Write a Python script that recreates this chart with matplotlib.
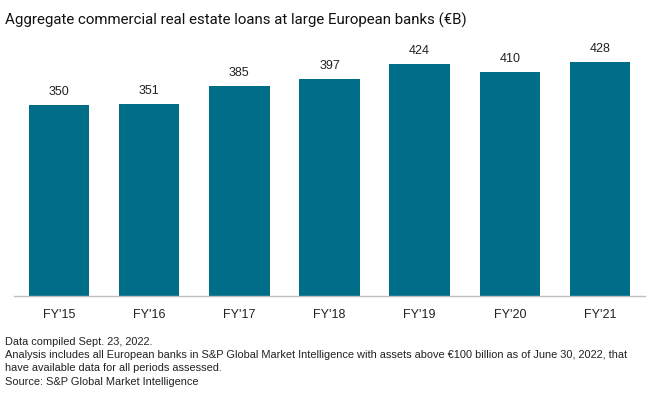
import matplotlib
matplotlib.use("Agg")
import matplotlib.pyplot as plt

# data
years = ["FY'15", "FY'16", "FY'17", "FY'18", "FY'19", "FY'20", "FY'21"]
loans = [350, 351, 385, 397, 424, 410, 428]

title = "Aggregate commercial real estate loans at large European banks (\u20acB)"
notes = [
    "Data compiled Sept. 23, 2022.",
    "Analysis includes all European banks in S&P Global Market Intelligence with assets above \u20ac100 billion as of June 30, 2022, that",
    "have available data for all periods assessed.",
    "Source: S&P Global Market Intelligence",
]

plt.rcParams['font.family'] = ['Liberation Sans', 'DejaVu Sans']

fig = plt.figure(figsize=(6.6, 3.99), dpi=100)
ax = fig.add_axes([14/660, 1 - 296/399, 631/660, 254/399])

x = range(len(years))
bars = ax.bar(x, loans, width=0.67, color='#006E89')
for b, v in zip(bars, loans):
    ax.annotate(str(v), xy=(b.get_x() + b.get_width()/2, v), xytext=(0, 5),
                textcoords="offset points", ha='center', va='bottom', fontsize=9, color='#222222')

ax.set_xlim(-0.5, len(years) - 0.5)
ax.set_ylim(0, 465)
ax.set_xticks(list(x))
ax.set_xticklabels(years, fontsize=9, color='#222222')
ax.tick_params(axis='x', length=0, pad=9)
ax.set_yticks([])
for s in ['top', 'right', 'left']:
    ax.spines[s].set_visible(False)
ax.spines['bottom'].set_color('#BFBFBF')
ax.spines['bottom'].set_linewidth(1)

# title in a narrower face, like the original
fig.text(5/660, 1 - 20/399, title, fontsize=10.8, va='center', ha='left', color='#111111',
         family=['Roboto', 'DejaVu Sans'])
ys = [342, 355, 368, 382]
for t, y in zip(notes, ys):
    fig.text(5/660, 1 - y/399, t, fontsize=7.9, va='center', ha='left', color='#222222')

fig.savefig('out.png', dpi=100)
